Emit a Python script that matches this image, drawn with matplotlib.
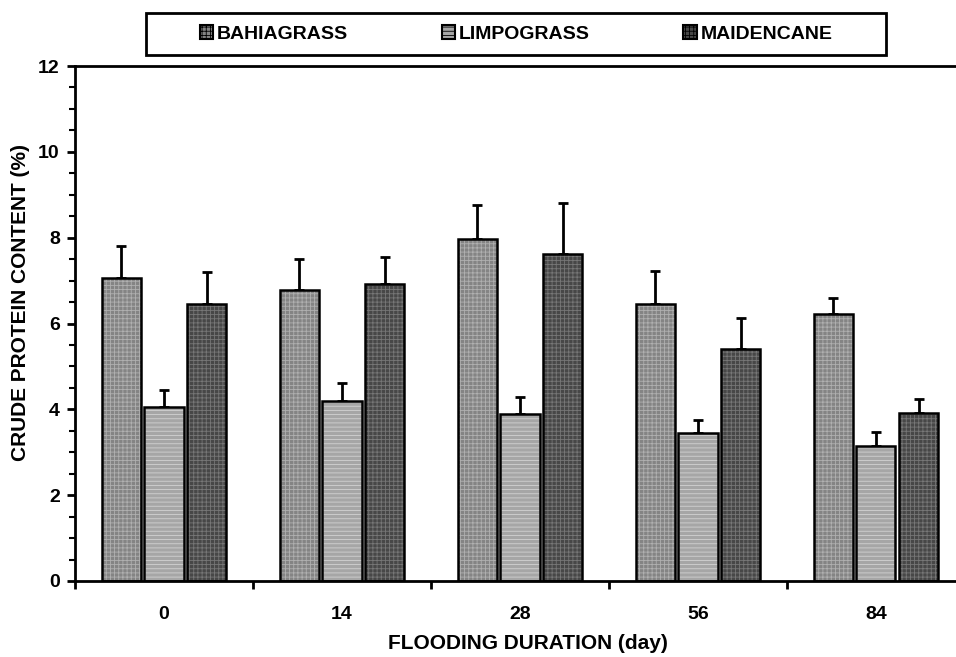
import numpy as np
import matplotlib.pyplot as plt
import matplotlib.patches as mpatches

plt.rcParams['font.family'] = ['Liberation Sans', 'DejaVu Sans']
plt.rcParams['font.weight'] = 'bold'
plt.rcParams['hatch.linewidth'] = 0.6

days = ['0', '14', '28', '56', '84']
species = ['BAHIAGRASS', 'LIMPOGRASS', 'MAIDENCANE']
# mean crude protein (%) and upper error (SE)
bahia = [7.05, 6.78, 7.98, 6.45, 6.22]
bahia_err = [0.75, 0.72, 0.78, 0.77, 0.38]
limpo = [4.05, 4.20, 3.88, 3.45, 3.15]
limpo_err = [0.40, 0.42, 0.40, 0.30, 0.33]
maiden = [6.45, 6.92, 7.63, 5.40, 3.92]
maiden_err = [0.75, 0.63, 1.18, 0.72, 0.33]

faces = ['#848484', '#a6a6a6', '#474747']
hatch_cols = ['#b0b0b0', '#d2d2d2', '#777777']
hatches = ['++++', '----', '++++']

fig = plt.figure(figsize=(9.56, 6.57), dpi=100)
ax = fig.add_axes([0.0785, 0.1157, 0.9215, 0.7838])

x = np.arange(len(days))
width = 0.22
offsets = [-0.24, 0.0, 0.24]
series = [(bahia, bahia_err), (limpo, limpo_err), (maiden, maiden_err)]
for i, (vals, errs) in enumerate(series):
    pos = x + offsets[i]
    ax.bar(pos, vals, width, color=faces[i], edgecolor=hatch_cols[i],
           hatch=hatches[i], linewidth=0, zorder=2)
    ax.bar(pos, vals, width, fill=False, edgecolor='black', linewidth=1.8, zorder=3)
    ax.errorbar(pos, vals, yerr=[np.zeros(len(vals)), errs], fmt='none',
                ecolor='black', elinewidth=2, capsize=3.5, capthick=2, zorder=1)

ax.set_ylim(0, 12)
ax.set_xlim(-0.5, 4.45)
ax.set_yticks(range(0, 13, 2))
ax.set_yticks(np.arange(0, 12.01, 0.5), minor=True)
ax.set_xticks(x)
ax.set_xticklabels(days)
ax.set_xticks(np.arange(-0.5, 4.5, 1), minor=True)
ax.tick_params(axis='x', which='major', length=0, pad=18, labelsize=14)
ax.tick_params(axis='x', which='minor', length=6, width=2, direction='out')
ax.tick_params(axis='y', which='major', length=6, width=2, labelsize=14, pad=5)
ax.tick_params(axis='y', which='minor', length=4, width=1.5)
for s in ['left', 'bottom', 'top']:
    ax.spines[s].set_linewidth(2)
ax.spines['right'].set_visible(False)

ax.set_ylabel('CRUDE PROTEIN CONTENT (%)', fontsize=15, fontweight='bold')
ax.yaxis.set_label_coords(-0.051, 0.54)
ax.set_xlabel('FLOODING DURATION (day)', fontsize=15, fontweight='bold')
ax.xaxis.set_label_coords(0.514, -0.102)

# legend box drawn separately so entries can sit centred inside it
fig.patches.append(mpatches.Rectangle((146 / 956, 1 - 55 / 657), (886 - 146) / 956, 42 / 657,
                                      transform=fig.transFigure, fill=False,
                                      edgecolor='black', linewidth=2))
proxies = [mpatches.Patch(facecolor=faces[i], edgecolor='black', linewidth=1.5,
                          hatch=hatches[i]) for i in range(3)]
fig.legend(proxies, species, loc='center', ncol=3, frameon=False,
           bbox_to_anchor=(0.540, 1 - 34 / 657),
           handlelength=0.7, handleheight=0.7, handletextpad=0.2,
           columnspacing=4.8, prop={'weight': 'bold', 'size': 14})

fig.savefig('out.png', dpi=100)
